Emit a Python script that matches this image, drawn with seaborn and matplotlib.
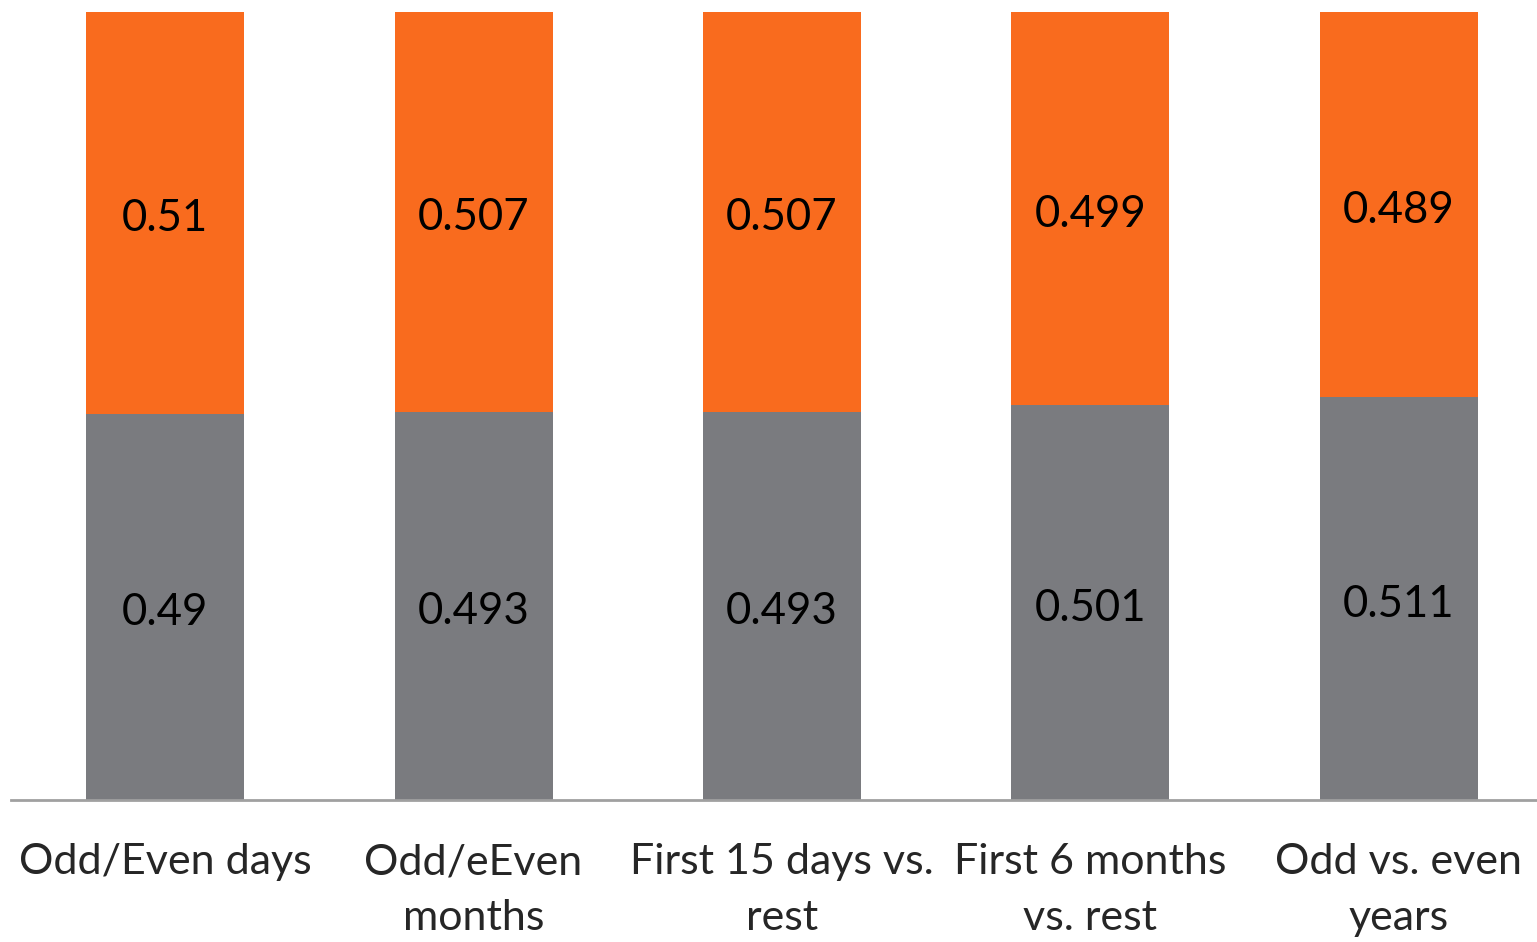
import pandas as pd
import matplotlib.pyplot as plt
import seaborn as sns

# Data
categories = ['Odd/Even days', 'Odd/eEven\nmonths', 'First 15 days vs.\nrest',
              'First 6 months\nvs. rest', 'Odd vs. even\nyears']
bottom_vals = [0.49, 0.493, 0.493, 0.501, 0.511]
top_vals = [0.51, 0.507, 0.507, 0.499, 0.489]

df = pd.DataFrame({'category': categories, 'bottom': bottom_vals, 'top': top_vals})

sns.set_style('white')
plt.rcParams['font.family'] = ['Lato', 'DejaVu Sans']

gray = '#7a7b7f'
orange = '#f96b1e'

fig = plt.figure(figsize=(15.37, 9.42), dpi=100)
ax = fig.add_axes([11 / 1537, 142 / 942, 1542 / 1537, 788 / 942])

# Stacked bars: gray bottom segment, orange on top
sns.barplot(x='category', y='bottom', data=df, color=gray, width=0.512,
            saturation=1, linewidth=0, ax=ax)
sns.barplot(x='category', y='top', data=df, color=orange, width=0.512,
            saturation=1, linewidth=0, bottom=df['bottom'], ax=ax)

# Value labels centered in each segment
off = 0.007
for i, row in df.iterrows():
    ax.text(i, row['bottom'] / 2 - off, f"{row['bottom']:g}", ha='center',
            va='center', fontsize=31.5, color='black')
    ax.text(i, row['bottom'] + row['top'] / 2 - off, f"{row['top']:g}",
            ha='center', va='center', fontsize=31.5, color='black')

ax.set_xlim(-0.5, 4.5)
ax.set_ylim(0, 1)
ax.set_xlabel('')
ax.set_ylabel('')
ax.set_yticks([])
ax.tick_params(axis='x', length=0, labelsize=31, pad=31)
for lbl in ax.get_xticklabels():
    lbl.set_linespacing(1.57)
    lbl.set_va('top')

for side in ['top', 'right', 'left']:
    ax.spines[side].set_visible(False)
ax.spines['bottom'].set_color('#a0a0a0')
ax.spines['bottom'].set_linewidth(2)

fig.savefig('out.png', dpi=100)
